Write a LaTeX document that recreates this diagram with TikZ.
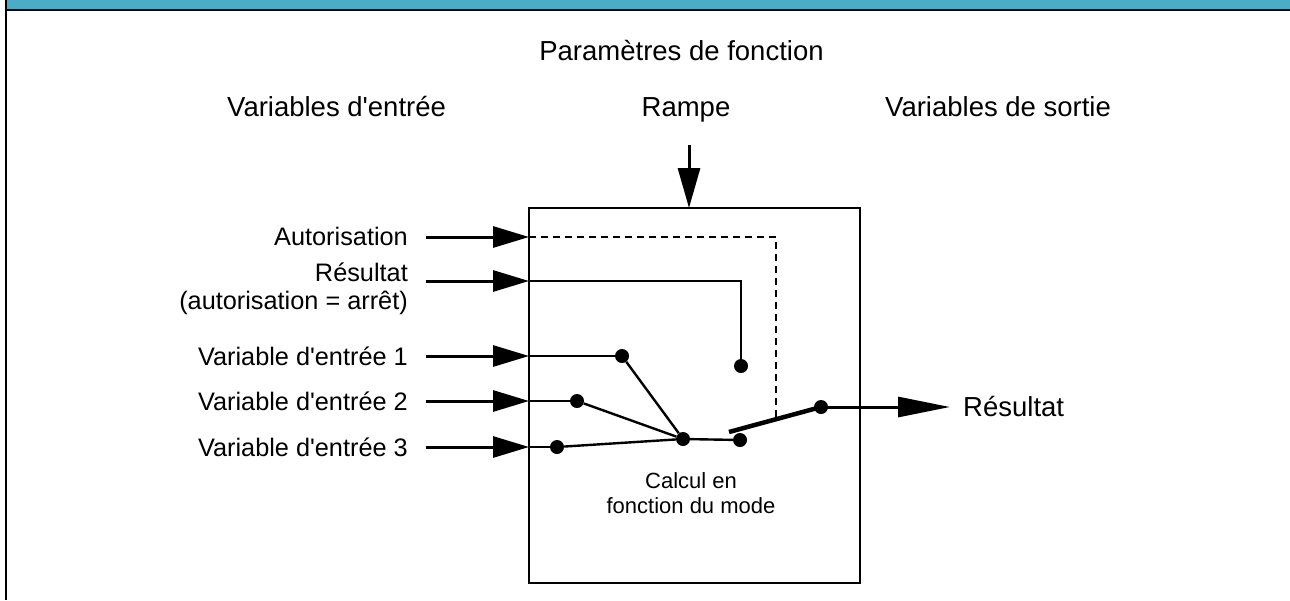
\documentclass[tikz,border=0pt]{standalone}
\usepackage{fontspec}
\setmainfont{Liberation Sans}[Ligatures=TeXOff]
\usetikzlibrary{arrows.meta}
\definecolor{barteal}{RGB}{75,172,198}
\begin{document}
\begin{tikzpicture}[x=1pt,y=-1pt,
  lbl/.style={inner sep=0pt, font=\fontsize{27.5}{33}\selectfont},
  inlbl/.style={inner sep=0pt, font=\fontsize{25.3}{29}\selectfont, anchor=base east},
  smalllbl/.style={inner sep=0pt, font=\fontsize{22}{25}\selectfont, anchor=base},
  dot/.style={circle, fill=black, inner sep=0pt, minimum size=14pt},
  inarrow/.style={line width=3pt, -{Triangle[length=36pt,width=21pt]}},
  ramparrow/.style={line width=3pt, -{Triangle[length=40pt,width=22pt]}},
  outarrow/.style={line width=3pt, -{Triangle[length=52pt,width=20pt]}},
  wire/.style={line width=2.4pt},
  dashwire/.style={line width=2.6pt, dash pattern=on 7pt off 5pt},
  lever/.style={line width=4.5pt},
  frameline/.style={line width=2pt}
]
\useasboundingbox (0,0) rectangle (1290,600);
% frame
\fill[barteal] (7,0) rectangle (1290,9);
\coordinate (fl1) at (6,0); \coordinate (fl2) at (6,600);
\coordinate (ft1) at (5,10); \coordinate (ft2) at (1290,10);
\draw[frameline] (fl1) -- (fl2);
\draw[frameline] (ft1) -- (ft2);

% box
\node[draw, line width=2.5pt, minimum width=331pt, minimum height=375pt,
      inner sep=0pt, outer sep=0pt] (box) at (694.5,395.5) {};

% titles
\node[lbl, anchor=base] (tparam) at (681.5,60) {Paramètres de fonction};
\node[lbl, anchor=base] (trampe) at (686,116) {Rampe};
\node[lbl, anchor=base west] (tvin) at (227,116) {Variables d'entrée};
\node[lbl, anchor=base west] (tvout) at (885,116) {Variables de sortie};

% input labels
\node[inlbl] (tauth) at (408,245) {Autorisation};
\node[inlbl] (tres1) at (408,281) {Résultat};
\node[inlbl] (tres2) at (408,309) {(autorisation = arrêt)};
\node[inlbl] (tv1) at (408,365) {Variable d'entrée 1};
\node[inlbl] (tv2) at (408,410) {Variable d'entrée 2};
\node[inlbl] (tv3) at (408,456) {Variable d'entrée 3};

% output label
\node[lbl, anchor=base west] (tout) at (963,416) {Résultat};

% inner label
\node[smalllbl] (tcalc1) at (691,488) {Calcul en};
\node[smalllbl] (tcalc2) at (691,513) {fonction du mode};

% ramp arrow
\coordinate (rt) at (689,145);
\draw[ramparrow] (rt) -- (rt |- box.north);

% input arrows
\coordinate (a0) at (426,237);
\coordinate (r0) at (426,281);
\coordinate (v1) at (426,356);
\coordinate (v2) at (426,401);
\coordinate (v3) at (426,447);
\foreach \c in {a0,r0,v1,v2,v3} \draw[inarrow] (\c) -- (\c -| box.west);

% dots
\node[dot] (d1) at (622,356) {};
\node[dot] (d2) at (577,401) {};
\node[dot] (d3) at (557,447) {};
\node[dot] (hub) at (683,439) {};
\node[dot] (dc) at (740,440) {};
\node[dot] (dr) at (741,366) {};
\node[dot] (dout) at (821,407) {};

% inner wires
\draw[wire] (v1 -| box.west) -- (d1);
\draw[wire] (v2 -| box.west) -- (d2);
\draw[wire] (v3 -| box.west) -- (d3);
\draw[wire] (d1) -- (hub);
\draw[wire] (d2) -- (hub);
\draw[wire] (d3) -- (hub);
\draw[wire] (hub) -- (dc);
\draw[wire] (r0 -| box.west) -| (dr);

% switch
\coordinate (lv) at (729,432);
\coordinate (dend) at (776,419.5);
\draw[dashwire] (a0 -| box.west) -| (dend);
\draw[lever] (lv) -- (dout.center);

% output arrow
\coordinate (outtip) at (950,407);
\draw[outarrow] (dout.center) -- (outtip);
\end{tikzpicture}
\end{document}
